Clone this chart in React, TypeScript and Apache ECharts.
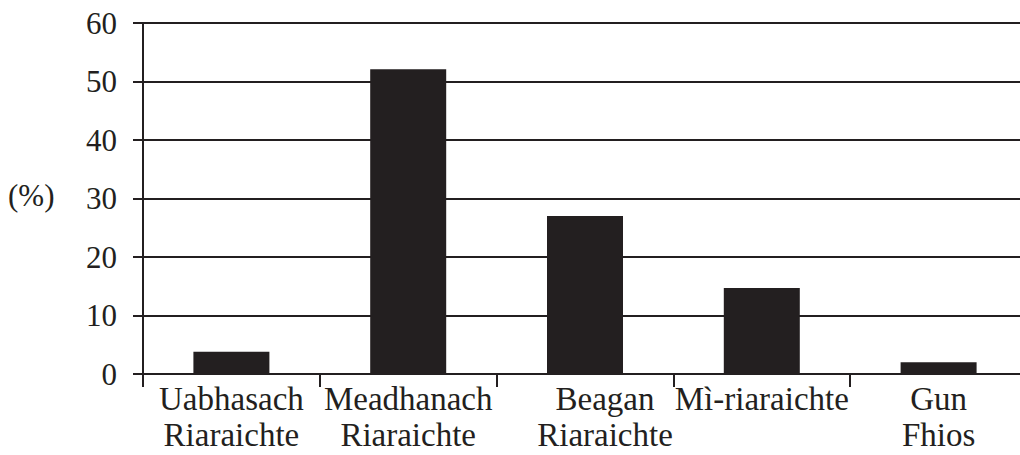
import React, { useEffect, useRef } from "react";
import * as echarts from "echarts";

const categories = [
  "Uabhasach\nRiaraichte",
  "Meadhanach\nRiaraichte",
  "Beagan\nRiaraichte",
  "Mì-riaraichte",
  "Gun\nFhios",
];
const values = [3.8, 52.1, 27.0, 14.7, 2.0];
const yTicks = { min: 0, max: 60, interval: 10 };
const yAxisTitle = "(%)";

const INK = "#231f20";
const FONT = "Liberation Serif";

export default function App() {
  const ref = useRef<HTMLDivElement>(null);
  useEffect(() => {
    if (!ref.current) return;
    const chart = echarts.init(ref.current, undefined, { renderer: "svg" });
    chart.setOption({
      animation: false,
      backgroundColor: "#ffffff",
      textStyle: { fontFamily: FONT },
      grid: { left: 143, right: 3, top: 23, bottom: 81 },
      graphic: [
        {
          type: "text",
          left: 8,
          top: 180,
          style: { text: yAxisTitle, fontSize: 31, fontFamily: FONT, fill: INK },
        },
      ],
      xAxis: {
        type: "category",
        data: categories.map((c, i) =>
          i === 2 ? { value: c, textStyle: { padding: [0, 0, 0, 40] } } : c
        ),
        boundaryGap: true,
        axisLine: { show: true, lineStyle: { color: INK, width: 2 } },
        axisTick: { show: true, length: 13, lineStyle: { color: INK, width: 2 } },
        axisLabel: {
          interval: 0,
          margin: 7,
          fontSize: 33,
          lineHeight: 36,
          fontFamily: FONT,
          color: INK,
        },
        splitLine: { show: false },
      },
      yAxis: {
        type: "value",
        min: yTicks.min,
        max: yTicks.max,
        interval: yTicks.interval,
        axisLine: { show: true, lineStyle: { color: INK, width: 2 } },
        axisTick: { show: true, length: 10, lineStyle: { color: INK, width: 2 } },
        axisLabel: {
          margin: 26,
          fontSize: 31,
          fontFamily: FONT,
          color: INK,
        },
        splitLine: { show: true, lineStyle: { color: INK, width: 2 } },
      },
      series: [
        {
          type: "bar",
          data: values,
          barWidth: 76,
          itemStyle: { color: INK },
        },
      ],
    });
    return () => chart.dispose();
  }, []);
  return (
    <div
      ref={ref}
      style={{ position: "fixed", left: 0, top: 0, width: 1030, height: 455, background: "#fff" }}
    />
  );
}
